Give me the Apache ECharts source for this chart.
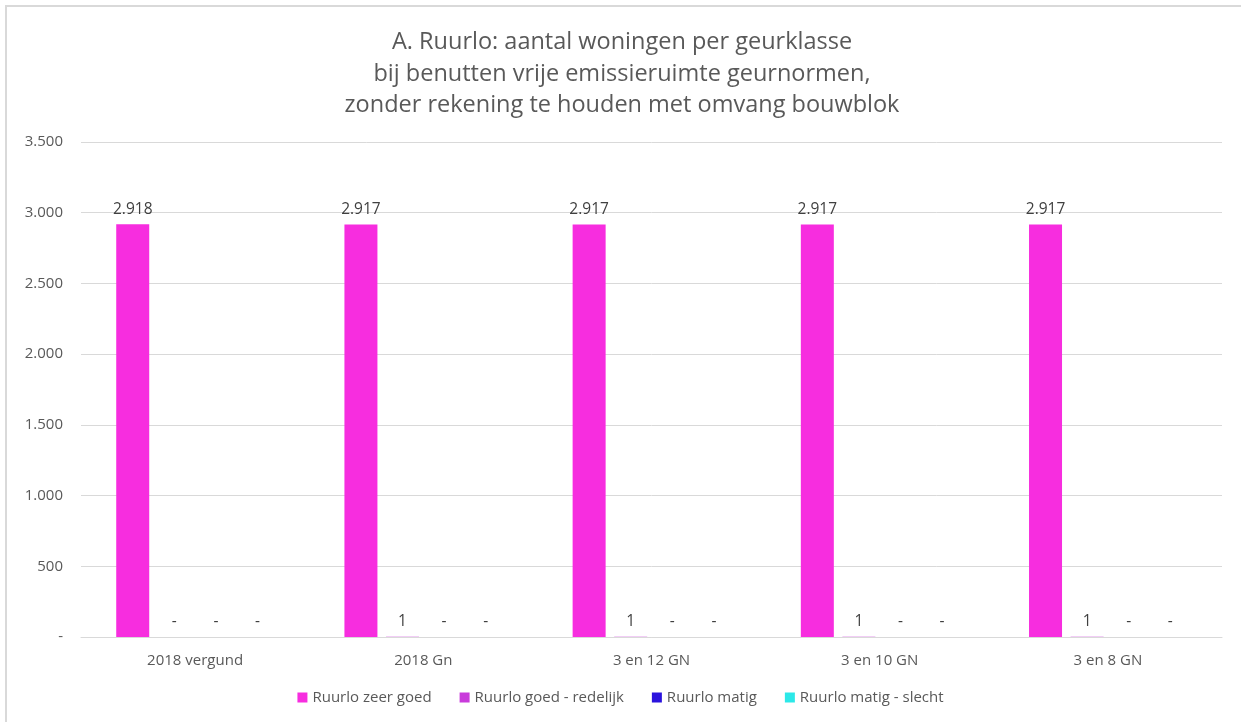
<!DOCTYPE html>
<html>
<head>
<meta charset="utf-8">
<script src="https://cdn.jsdelivr.net/npm/echarts@6/dist/echarts.min.js"></script>
<style>
	html, body { margin: 0; padding: 0; background: #fff; }
	#chart { width: 1241px; height: 722px; }
</style>
</head>
<body>
<div id="chart"></div>
<script>
// categorieen en reeksen
var categories = ['2018 vergund', '2018 Gn', '3 en 12 GN', '3 en 10 GN', '3 en 8 GN'];
var seriesNames = ['Ruurlo zeer goed', 'Ruurlo goed - redelijk', 'Ruurlo matig', 'Ruurlo matig - slecht'];
var zeerGoed = [2918, 2917, 2917, 2917, 2917];
var goedRedelijk = [0, 1, 1, 1, 1];
var matig = [0, 0, 0, 0, 0];
var matigSlecht = [0, 0, 0, 0, 0];
var colors = ['#F72DDF', '#C93BDB', '#2B13DD', '#2CE8E8'];

var font = '"Open Sans", Lato, sans-serif';

// getal in nl-notatie, 0 wordt '-'
function fmt(v) {
	if(v === 0) return '-';
	return String(v).replace(/\B(?=(\d{3})+(?!\d))/g, '.');
}

function makeSeries(name, data, color) {
	return {
		name: name,
		type: 'bar',
		data: data,
		barWidth: 33,
		barGap: '26%',
		itemStyle: { color: color },
		label: {
			show: true,
			position: 'top',
			distance: 7,
			color: '#404040',
			fontFamily: font,
			fontSize: 15.5,
			formatter: function(p) { return fmt(p.value); }
		}
	};
}

function init() {
	var chart = echarts.init(document.getElementById('chart'));
	var option = {
		backgroundColor: '#fff',
		animation: false,
		color: colors,
		title: {
			text: 'A. Ruurlo: aantal woningen per geurklasse\nbij benutten vrije emissieruimte geurnormen,\nzonder rekening te houden met omvang bouwblok',
			left: 617,
			textAlign: 'center',
			top: 22,
			textStyle: {
				color: '#595959',
				fontFamily: font,
				fontSize: 23.5,
				fontWeight: 'normal',
				lineHeight: 31.5
			}
		},
		legend: {
			bottom: 12,
			left: 'center',
			itemWidth: 10,
			itemHeight: 10,
			itemGap: 28,
			itemTextGap: 3,
			icon: 'rect',
			textStyle: {
				color: '#595959',
				fontFamily: font,
				fontSize: 15
			},
			data: seriesNames
		},
		grid: {
			left: 81,
			right: 19,
			top: 142,
			bottom: 85
		},
		xAxis: {
			type: 'category',
			data: categories,
			axisTick: { show: false },
			axisLine: { lineStyle: { color: '#D9D9D9' } },
			axisLabel: {
				color: '#595959',
				fontFamily: font,
				fontSize: 15,
				margin: 16
			}
		},
		yAxis: {
			type: 'value',
			min: 0,
			max: 3500,
			interval: 500,
			axisLine: { show: false },
			axisTick: { show: false },
			splitLine: { lineStyle: { color: '#D9D9D9' } },
			axisLabel: {
				color: '#595959',
				fontFamily: font,
				fontSize: 15,
				margin: 18,
				formatter: fmt
			}
		},
		graphic: [{
			type: 'rect',
			shape: { x: 6, y: 6, width: 1400, height: 1400 },
			style: { fill: 'none', stroke: '#D9D9D9', lineWidth: 2 },
			silent: true
		}],
		series: [
			makeSeries(seriesNames[0], zeerGoed, colors[0]),
			makeSeries(seriesNames[1], goedRedelijk, colors[1]),
			makeSeries(seriesNames[2], matig, colors[2]),
			makeSeries(seriesNames[3], matigSlecht, colors[3])
		]
	};
	chart.setOption(option);
}

init();
</script>
</body>
</html>
